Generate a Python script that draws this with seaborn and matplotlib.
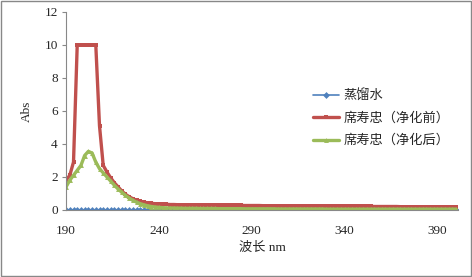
import numpy as np
import pandas as pd
import seaborn as sns
import matplotlib.pyplot as plt
from matplotlib.patches import Rectangle

# wavelength (nm), 2 nm step
wavelength = list(range(190, 402, 2))

water = [
    0, 0, 0, 0, 0, 0, 0, 0, 0, 0, 0, 0, 0, 0, 0, 0, 0, 0, 0, 0,
    0, 0, 0, 0, 0, 0, 0, 0, 0, 0, 0, 0, 0, 0, 0, 0, 0, 0, 0, 0,
    0, 0, 0, 0, 0, 0, 0, 0, 0, 0, 0, 0, 0, 0, 0, 0, 0, 0, 0, 0,
    0, 0, 0, 0, 0, 0, 0, 0, 0, 0, 0, 0, 0, 0, 0, 0, 0, 0, 0, 0,
    0, 0, 0, 0, 0, 0, 0, 0, 0, 0, 0, 0, 0, 0, 0, 0, 0, 0, 0, 0,
    0, 0, 0, 0, 0, 0,
]

before = [
    1.8, 2.1, 2.9, 10.0, 10.0, 10.0, 10.0, 10.0, 10.0, 5.1,
    2.7, 2.3, 1.95, 1.65, 1.4, 1.15, 0.95, 0.8, 0.68, 0.58,
    0.52, 0.47, 0.43, 0.4, 0.38, 0.36, 0.35, 0.34, 0.33, 0.33,
    0.32, 0.32, 0.31, 0.31, 0.31, 0.3, 0.3, 0.3, 0.3, 0.29,
    0.29, 0.29, 0.29, 0.28, 0.28, 0.28, 0.28, 0.28, 0.27, 0.27,
    0.27, 0.27, 0.27, 0.26, 0.26, 0.26, 0.26, 0.26, 0.25, 0.25,
    0.25, 0.25, 0.25, 0.25, 0.24, 0.24, 0.24, 0.24, 0.24, 0.24,
    0.23, 0.23, 0.23, 0.23, 0.23, 0.23, 0.22, 0.22, 0.22, 0.22,
    0.22, 0.22, 0.22, 0.21, 0.21, 0.21, 0.21, 0.21, 0.21, 0.21,
    0.2, 0.2, 0.2, 0.2, 0.2, 0.2, 0.2, 0.2, 0.19, 0.19,
    0.19, 0.19, 0.19, 0.19, 0.19, 0.19,
]

after = [
    1.4, 1.8, 2.1, 2.4, 2.7, 3.3, 3.55, 3.45, 2.9, 2.5,
    2.25, 2.0, 1.75, 1.5, 1.27, 1.07, 0.88, 0.72, 0.58, 0.47,
    0.38, 0.31, 0.25, 0.21, 0.18, 0.16, 0.14, 0.13, 0.12, 0.12,
    0.11, 0.11, 0.1, 0.1, 0.1, 0.1, 0.09, 0.09, 0.09, 0.09,
    0.09, 0.08, 0.08, 0.08, 0.08, 0.08, 0.08, 0.08, 0.07, 0.07,
    0.07, 0.07, 0.07, 0.07, 0.07, 0.07, 0.07, 0.06, 0.06, 0.06,
    0.06, 0.06, 0.06, 0.06, 0.06, 0.06, 0.06, 0.06, 0.06, 0.06,
    0.05, 0.05, 0.05, 0.05, 0.05, 0.05, 0.05, 0.05, 0.05, 0.05,
    0.05, 0.05, 0.05, 0.05, 0.05, 0.05, 0.05, 0.05, 0.05, 0.05,
    0.05, 0.05, 0.05, 0.05, 0.05, 0.05, 0.05, 0.05, 0.05, 0.05,
    0.05, 0.05, 0.05, 0.05, 0.05, 0.05,
]

labels = ['蒸馏水', '席寿忠（净化前）', '席寿忠（净化后）']
colors = ['#4F81BD', '#C0504D', '#9BBB59']
markers = ['D', 's', '^']
widths = [1.2, 2.4, 2.4]

sns.set_style('white')
plt.rcParams['font.family'] = ['Liberation Serif', 'Noto Sans CJK SC']

fig = plt.figure(figsize=(4.72, 2.77), dpi=100)
ax = fig.add_axes([0.140, 0.242, 0.830, 0.715])

for ys, lab, c, m, w in zip([water, before, after], labels, colors, markers, widths):
    df = pd.DataFrame({'wl': wavelength, 'abs': ys})
    sns.lineplot(data=df, x='wl', y='abs', ax=ax, color=c, marker=m,
                 markersize=3.5, markeredgewidth=0, linewidth=w, label=lab)

ax.set_xlim(190, 401)
ax.set_ylim(0, 12)
ax.set_xticks([190, 240, 290, 340, 390])
ax.set_yticks([0, 2, 4, 6, 8, 10, 12])
ax.tick_params(axis='y', left=True, length=3, width=0.8, color='#888888', labelsize=9.5, pad=3)
ax.tick_params(axis='x', bottom=False, labelsize=9.5, pad=7)
for s in ['top', 'right']:
    ax.spines[s].set_visible(False)
for s in ['left', 'bottom']:
    ax.spines[s].set_color('#888888')
    ax.spines[s].set_linewidth(0.8)
ax.set_xlabel('波长 nm', fontsize=9.5, labelpad=4)
ax.set_ylabel('Abs', fontsize=9.5, labelpad=8)

leg = ax.legend(loc='upper left', bbox_to_anchor=(0.60, 0.67), frameon=False,
                fontsize=9.5, handlelength=2.0, handletextpad=0.3, labelspacing=0.75)

fig.patches.append(Rectangle((0.002, 0.004), 0.995, 0.992, transform=fig.transFigure,
                             fill=False, edgecolor='#888888', linewidth=1))

plt.savefig('out.png', dpi=100)
